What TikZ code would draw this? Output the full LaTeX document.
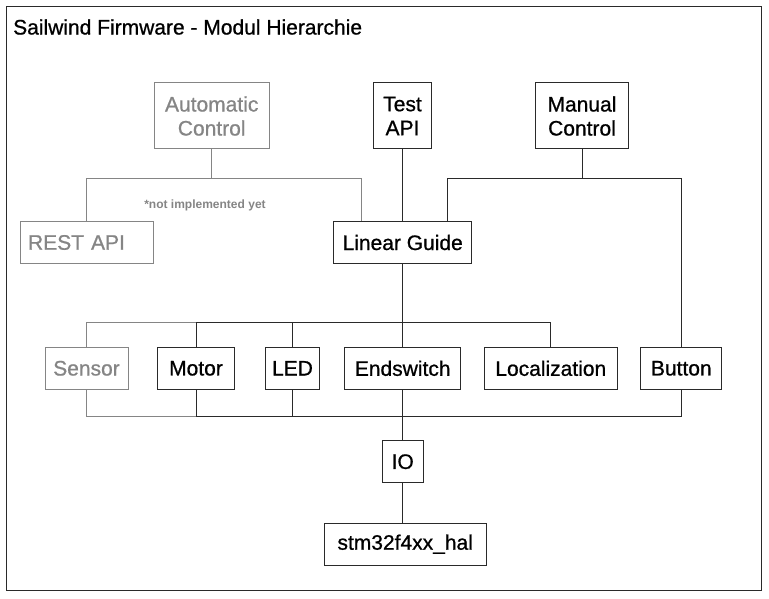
\documentclass[tikz,border=0pt]{standalone}
\usepackage{fontspec}
\setmainfont{Liberation Sans}
\newfontfamily\labelfont{Liberation Sans}[FakeBold=0.8]
\usetikzlibrary{positioning}
\definecolor{wire}{HTML}{2A2A2A}
\definecolor{inactive}{HTML}{858585}

\begin{document}
\begin{tikzpicture}[
  x=1pt, y=-1pt,
  every node/.style={font=\labelfont\fontsize{21}{24}\selectfont},
  box/.style={draw=wire, line width=1pt, minimum height=41.6pt, align=center, inner sep=3pt},
  tall/.style={box, minimum height=66pt},
  off/.style={draw=inactive, text=inactive},
  link/.style={draw=wire, line width=1pt},
  oldlink/.style={draw=inactive, line width=1pt}
]
\useasboundingbox (0,0) rectangle (769,599);
\draw[wire, line width=1pt] (6.5,6.5) rectangle (761,590.5);
\node[anchor=west, inner sep=0pt] (title) at (13,27) {Sailwind Firmware - Modul Hierarchie};

% top: controllers
\node[tall, off, minimum width=115pt] (autoctl) at (211.7,116) {Automatic\\Control};
\node[tall, minimum width=57.6pt] (testapi) at (402.5,116) {Test\\API};
\node[tall, minimum width=92.6pt] (manual) at (582,116) {Manual\\Control};

\node[box, off, text width=117.3pt, align=left, inner xsep=8pt] (rest) at (86.7,242.5) {REST API};
\node[box, minimum width=138.3pt] (guide) at (402.7,242.5) {Linear Guide};
\node[font=\fontsize{12}{14}\selectfont\bfseries, text=inactive] (note) at (205,205) {*not implemented yet};

% middle: drivers
\node[box, off, minimum width=83pt] (sensor) at (86.5,368.3) {Sensor};
\node[box, minimum width=76.3pt] (motor) at (196,368.3) {Motor};
\node[box, minimum width=53.6pt] (led) at (292.5,368.3) {LED};
\node[box, minimum width=116pt] (endsw) at (402.7,368.3) {Endswitch};
\node[box, minimum width=133pt] (local) at (550.8,368.3) {Localization};
\node[box, minimum width=80.7pt] (button) at (681.3,368.3) {Button};

% bottom: hardware
\node[box, minimum width=41pt, minimum height=42pt] (io) at (402.7,461.7) {IO};
\node[box, minimum width=161.7pt] (hal) at (405.2,544.2) {stm32f4xx\_hal};

\coordinate (upbus) at (0,322.7);
\coordinate (lowbus) at (0,416.7);

\draw[oldlink] (autoctl.south) -- ++(0,29.3) coordinate (ajoin);
\draw[oldlink] (rest.north) |- (ajoin) -| ([xshift=-41.7pt]guide.north);
\draw[link] (testapi.south) -- (testapi.south |- guide.north);
\draw[link] (manual.south) -- ++(0,29.3) coordinate (mjoin);
\draw[link] ([xshift=44.6pt]guide.north) |- (mjoin) -| (button.north);

\draw[link] (guide.south) -- (endsw.north);
\draw[oldlink] (sensor.north) |- (motor.north |- upbus);
\draw[link] (motor.north) |- (local.north |- upbus) -- (local.north);
\draw[link] (led.north) -- (led.north |- upbus);

\draw[oldlink] (sensor.south) |- (motor.south |- lowbus);
\draw[link] (motor.south) |- (button.south |- lowbus) -- (button.south);
\draw[link] (led.south) -- (led.south |- lowbus);
\draw[link] (endsw.south) -- (io.north);
\draw[link] (io.south) -- (io.south |- hal.north);
\end{tikzpicture}
\end{document}
